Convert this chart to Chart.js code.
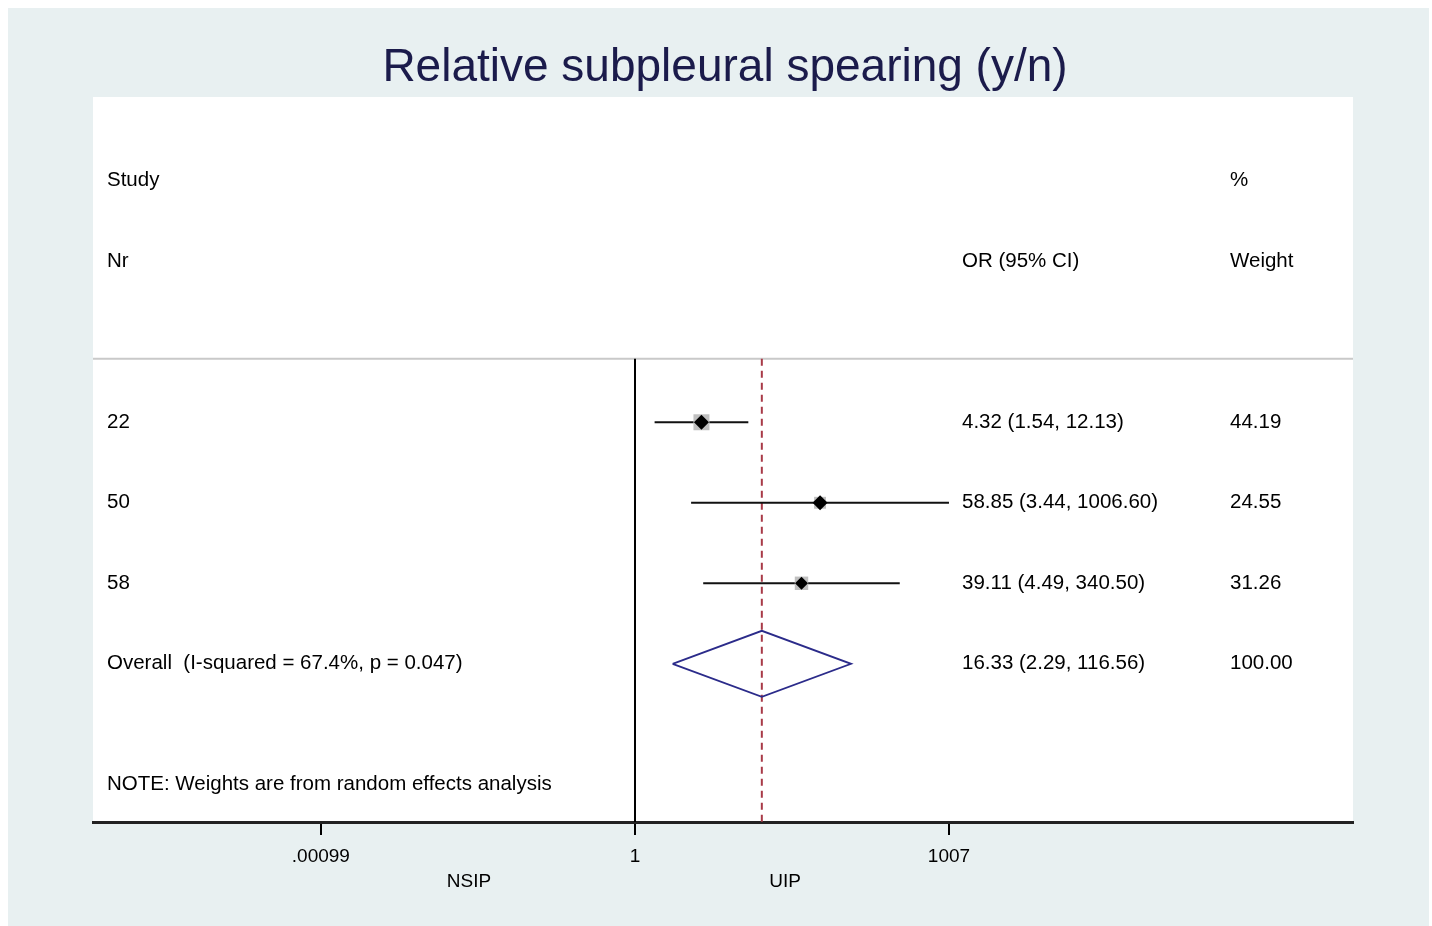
<!DOCTYPE html>
<html><head><meta charset="utf-8">
<script src="https://cdn.jsdelivr.net/npm/chart.js@4.4.1/dist/chart.umd.min.js"></script>
<style>html,body{margin:0;padding:0;background:#fff;overflow:hidden}#wrap{width:1432px;height:926px;position:relative}</style>
</head><body><div id="wrap"><canvas id="c" width="1432" height="926"></canvas></div>
<script>
// ---- data ----
const titleText = 'Relative subpleural spearing (y/n)';
const headerLeft = ['Study', 'Nr'];
const headerOR = 'OR (95% CI)';
const headerWeight = ['%', 'Weight'];
const studyIds = ['22', '50', '58'];
const orEst = [4.32, 58.85, 39.11];
const ciLow = [1.54, 3.44, 4.49];
const ciHigh = [12.13, 1006.60, 340.50];
const weights = [44.19, 24.55, 31.26];
const overallLabel = 'Overall  (I-squared = 67.4%, p = 0.047)';
const overallEst = 16.33;
const overallLow = 2.29;
const overallHigh = 116.56;
const overallWeight = 100.00;
const noteText = 'NOTE: Weights are from random effects analysis';
const tickValues = [0.00099, 1, 1007];
const tickLabels = ['.00099', '1', '1007'];
const sideLabels = ['NSIP', 'UIP'];

// ---- layout helpers ----
const FONT = '"Liberation Sans", Arial, sans-serif';
const studyRows = studyIds.map((_, i) => 3 + i);
const overallRow = 6;
const noteRow = 7.5;
const dividerRow = 2.212;
const yMin = -1.04, yMax = 7.965;
const xMin = Math.pow(10, -5.1836), xMax = Math.pow(10, 6.8669);
const fmt = v => v.toFixed(2);

const datasets = [];
// individual study markers (diamonds)
datasets.push({
  type: 'scatter', order: 0,
  data: orEst.map((v, i) => ({x: v, y: studyRows[i]})),
  pointStyle: 'rectRot', pointRadius: [7.5, 7.5, 6.5], pointHoverRadius: 7,
  backgroundColor: '#000', borderColor: '#000', borderWidth: 0
});
// weight boxes
datasets.push({
  type: 'scatter', order: 1,
  data: orEst.map((v, i) => ({x: v, y: studyRows[i]})),
  pointStyle: 'rect', pointRadius: weights.map(w => Math.sqrt(w) * 1.7),
  backgroundColor: '#c0c0c0', borderColor: '#c0c0c0', borderWidth: 0
});
// confidence intervals
studyIds.forEach((_, i) => {
  datasets.push({
    type: 'line', order: 2,
    data: [{x: ciLow[i], y: studyRows[i]}, {x: ciHigh[i], y: studyRows[i]}],
    borderColor: '#111', borderWidth: 2, pointRadius: 0, fill: false
  });
});
// overall diamond
datasets.push({
  type: 'line', order: 3,
  data: [
    {x: overallLow, y: overallRow}, {x: overallEst, y: overallRow - 0.41},
    {x: overallHigh, y: overallRow}, {x: overallEst, y: overallRow + 0.41},
    {x: overallLow, y: overallRow}
  ],
  borderColor: '#2b2b8a', borderWidth: 1.8, pointRadius: 0, fill: false, tension: 0
});
// overall effect dashed line
datasets.push({
  type: 'line', order: 4,
  data: [{x: overallEst, y: dividerRow}, {x: overallEst, y: yMax}],
  borderColor: '#a83a48', borderWidth: 2, borderDash: [7, 5], pointRadius: 0, fill: false
});
// null line
datasets.push({
  type: 'line', order: 5,
  data: [{x: 1, y: dividerRow}, {x: 1, y: yMax}],
  borderColor: '#000', borderWidth: 2, pointRadius: 0, fill: false
});

const bgPlugin = {
  id: 'bg',
  beforeDraw(chart) {
    const {ctx, chartArea: a} = chart;
    ctx.save();
    ctx.fillStyle = '#ffffff';
    ctx.fillRect(0, 0, chart.width, chart.height);
    ctx.fillStyle = '#e8f0f1';
    ctx.fillRect(8, 8, 1421, 918);
    ctx.fillStyle = '#ffffff';
    ctx.fillRect(a.left, a.top, a.right - a.left, a.bottom - a.top);
    // divider
    const yd = chart.scales.y.getPixelForValue(dividerRow);
    ctx.strokeStyle = '#c9c9c9';
    ctx.lineWidth = 2;
    ctx.beginPath(); ctx.moveTo(a.left, yd); ctx.lineTo(a.right, yd); ctx.stroke();
    ctx.restore();
  },
  afterDraw(chart) {
    const {ctx, chartArea: a, scales: {x, y}} = chart;
    ctx.save();
    // title
    ctx.fillStyle = '#1b1b4b';
    ctx.font = '46px ' + FONT;
    ctx.textAlign = 'center';
    ctx.textBaseline = 'alphabetic';
    ctx.fillText(titleText, 725, 81);
    // table text
    ctx.fillStyle = '#000';
    ctx.font = '20.5px ' + FONT;
    ctx.textAlign = 'left';
    ctx.textBaseline = 'middle';
    const cL = a.left + 14, cOR = a.left + 869, cW = a.left + 1137;
    ctx.fillText(headerLeft[0], cL, y.getPixelForValue(0));
    ctx.fillText(headerLeft[1], cL, y.getPixelForValue(1));
    ctx.fillText(headerOR, cOR, y.getPixelForValue(1));
    ctx.fillText(headerWeight[0], cW, y.getPixelForValue(0));
    ctx.fillText(headerWeight[1], cW, y.getPixelForValue(1));
    studyIds.forEach((id, i) => {
      const py = y.getPixelForValue(studyRows[i]);
      ctx.fillText(id, cL, py);
      ctx.fillText(fmt(orEst[i]) + ' (' + fmt(ciLow[i]) + ', ' + fmt(ciHigh[i]) + ')', cOR, py);
      ctx.fillText(fmt(weights[i]), cW, py);
    });
    const po = y.getPixelForValue(overallRow);
    ctx.fillText(overallLabel, cL, po);
    ctx.fillText(fmt(overallEst) + ' (' + fmt(overallLow) + ', ' + fmt(overallHigh) + ')', cOR, po);
    ctx.fillText(fmt(overallWeight), cW, po);
    ctx.fillText(noteText, cL, y.getPixelForValue(noteRow));
    // side labels under axis
    ctx.font = '19px ' + FONT;
    ctx.textAlign = 'center';
    ctx.fillText(sideLabels[0], x.getPixelForValue(0.0258), 882);
    ctx.fillText(sideLabels[1], x.getPixelForValue(27.2), 882);
    ctx.restore();
  }
};

new Chart(document.getElementById('c'), {
  data: {datasets},
  options: {
    responsive: false, animation: false, devicePixelRatio: 1,
    layout: {padding: {left: 93, right: 79, top: 97, bottom: 0}},
    plugins: {legend: {display: false}, tooltip: {enabled: false}, title: {display: false}},
    scales: {
      x: {
        type: 'logarithmic', min: xMin, max: xMax,
        afterBuildTicks: s => { s.ticks = tickValues.map(v => ({value: v})); },
        ticks: {
          callback: (v, i) => tickLabels[i], color: '#000', autoSkip: false, maxRotation: 0,
          font: {family: FONT, size: 19}, padding: 10
        },
        grid: {display: true, drawOnChartArea: false, drawTicks: true, tickLength: 13, color: '#000', lineWidth: 2},
        border: {display: true, color: '#222', width: 3},
        afterFit: s => { s.height = 104; }
      },
      y: {type: 'linear', reverse: true, min: yMin, max: yMax, display: false}
    }
  },
  plugins: [bgPlugin]
});
</script></body></html>
